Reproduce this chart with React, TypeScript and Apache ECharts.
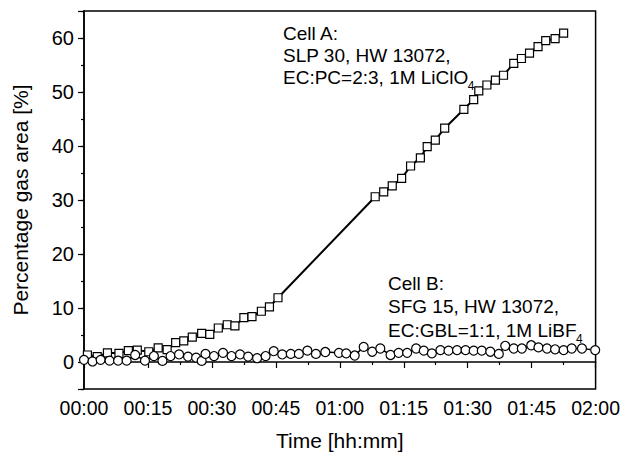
import React, { useEffect, useRef } from "react";
import * as echarts from "echarts";

// Cell A (squares): time in minutes, percentage gas area
const cellATime = [0.8, 3.1, 5.5, 8.2, 10.4, 12.5, 15.2, 17.4, 19.5, 21.5, 23.4, 25.4, 27.6, 29.5, 31.5, 33.6, 35.4, 37.5, 39.4, 41.6, 43.5, 45.5, 68.3, 70.3, 72.3, 74.5, 76.6, 78.9, 80.5, 82.4, 84.6, 89.1, 91.4, 92.6, 94.5, 96.5, 98.4, 100.8, 102.6, 104.5, 106.5, 108.3, 110.5, 112.5];
const cellAValue = [1.3, 1.0, 1.7, 1.6, 2.1, 2.2, 1.9, 2.6, 2.3, 3.6, 3.9, 4.6, 5.3, 5.1, 6.3, 6.9, 6.7, 8.2, 8.4, 9.4, 10.2, 11.9, 30.6, 31.5, 32.6, 34.0, 36.3, 37.8, 39.9, 41.1, 43.3, 46.8, 48.6, 50.2, 51.3, 52.2, 53.1, 55.3, 56.2, 57.2, 58.4, 59.5, 59.9, 60.9];

// Cell B (circles)
const cellBTime = [0, 2.0, 3.9, 6.0, 8.0, 10.0, 12.0, 14.3, 16.4, 18.4, 20.3, 22.3, 24.4, 26.3, 27.6, 28.5, 30.5, 32.6, 34.6, 36.6, 38.5, 40.6, 42.6, 44.5, 46.5, 48.5, 50.4, 52.4, 54.4, 56.6, 59.8, 61.5, 63.5, 65.6, 67.6, 69.5, 71.9, 73.8, 75.8, 77.9, 79.7, 81.6, 83.6, 85.5, 87.5, 89.5, 91.4, 93.3, 95.3, 97.3, 98.8, 100.8, 102.7, 104.9, 106.6, 108.6, 110.5, 112.5, 114.4, 116.8, 119.9];
const cellBValue = [0.4, 0.1, 0.4, 0.25, 0.25, 0.25, 1.3, 0.25, 1.1, 0.2, 1.1, 1.4, 1.0, 0.8, 0.2, 1.5, 1.1, 1.7, 1.1, 1.4, 1.0, 0.7, 1.1, 2.0, 1.4, 1.5, 1.5, 2.1, 1.5, 1.85, 1.7, 1.6, 1.2, 2.8, 1.9, 2.5, 1.3, 1.7, 1.7, 2.5, 2.1, 1.6, 2.2, 2.1, 2.2, 2.2, 2.1, 2.1, 1.9, 1.5, 3.0, 2.5, 2.5, 3.1, 2.7, 2.5, 2.35, 2.2, 2.5, 2.5, 2.2];

const xTickLabels = ["00:00", "00:15", "00:30", "00:45", "01:00", "01:15", "01:30", "01:45", "02:00"];

// each line: [main text, subscript]
const cellALines: [string, string][] = [["Cell A:", ""], ["SLP 30, HW 13072,", ""], ["EC:PC=2:3, 1M LiClO", "4"]];
const cellBLines: [string, string][] = [["Cell B:", ""], ["SFG 15, HW 13072,", ""], ["EC:GBL=1:1, 1M LiBF", "4"]];

const FONT = "'Liberation Sans', Arial, Helvetica, sans-serif";
const ANN_SIZE = 19;

export default function App() {
  const ref = useRef<HTMLDivElement>(null);
  useEffect(() => {
    if (!ref.current) return;
    const chart = echarts.init(ref.current, null, { renderer: "svg" });
    const pair = (t: number[], v: number[]) => t.map((x, i) => [x, v[i]]);
    const ctx = document.createElement("canvas").getContext("2d");
    const measure = (s: string) => {
      if (!ctx) return s.length * ANN_SIZE * 0.55;
      ctx.font = `${ANN_SIZE}px ${FONT}`;
      return ctx.measureText(s).width;
    };
    const textEls = (lines: [string, string][], x: number, y0: number, dy: number) => {
      const els: any[] = [];
      lines.forEach(([main, sub], i) => {
        const top = y0 + i * dy;
        els.push({
          type: "text",
          left: x,
          top,
          style: { text: main, fill: "#000", fontSize: ANN_SIZE, fontFamily: FONT },
        });
        if (sub) {
          els.push({
            type: "text",
            left: x + measure(main) - 0.5,
            top: top + 12.5,
            style: { text: sub, fill: "#000", fontSize: 12, fontFamily: FONT },
          });
        }
      });
      return els;
    };
    chart.setOption({
      animation: false,
      backgroundColor: "#fff",
      grid: {
        left: 84,
        top: 11,
        right: 26,
        bottom: 69,
        show: true,
        borderColor: "#000",
        borderWidth: 1.5,
        backgroundColor: "transparent",
      },
      xAxis: {
        type: "value",
        min: 0,
        max: 120,
        interval: 15,
        name: "Time [hh:mm]",
        nameLocation: "middle",
        nameGap: 41,
        nameTextStyle: { fontSize: 21, fontFamily: FONT, color: "#000" },
        axisLine: { show: true, lineStyle: { color: "#000", width: 1.5 } },
        axisTick: { show: true, inside: false, length: 6, lineStyle: { color: "#000", width: 1.2 } },
        minorTick: { show: true, splitNumber: 2, length: 3, lineStyle: { color: "#000", width: 1.2 } },
        splitLine: { show: false },
        axisLabel: {
          margin: 9,
          fontSize: 19.5,
          fontFamily: FONT,
          color: "#000",
          formatter: (v: number) => xTickLabels[Math.round(v / 15)] ?? "",
        },
      },
      yAxis: [
        {
          type: "value",
          min: -5,
          max: 65,
          interval: 5,
          name: "Percentage gas area [%]",
          nameLocation: "middle",
          nameGap: 53,
          nameTextStyle: { fontSize: 21, fontFamily: FONT, color: "#000" },
          axisLine: { show: true, lineStyle: { color: "#000", width: 1.5 } },
          axisTick: { show: true, inside: false, length: 3, lineStyle: { color: "#000", width: 1.2 } },
          splitLine: { show: false },
          axisLabel: {
            margin: 10,
            fontSize: 20,
            fontFamily: FONT,
            color: "#000",
            formatter: (v: number) => (v >= 0 && v <= 60 && v % 10 === 0 ? String(v) : ""),
          },
        },
        {
          type: "value",
          min: -5,
          max: 65,
          splitNumber: 7,
          position: "left",
          axisLine: { show: false },
          axisTick: { show: true, inside: false, length: 6, lineStyle: { color: "#000", width: 1.2 } },
          axisLabel: { show: false },
          splitLine: { show: false },
        },
      ],
      series: [
        {
          name: "Cell A",
          type: "line",
          data: pair(cellATime, cellAValue),
          symbol: "rect",
          symbolSize: 8,
          lineStyle: { color: "#000", width: 2 },
          itemStyle: { color: "#fff", borderColor: "#000", borderWidth: 1.2 },
          z: 3,
        },
        {
          name: "Cell B",
          type: "line",
          data: pair(cellBTime, cellBValue),
          symbol: "circle",
          symbolSize: 9,
          lineStyle: { color: "#000", width: 1.5 },
          itemStyle: { color: "#fff", borderColor: "#000", borderWidth: 1.2 },
          z: 3,
        },
      ],
      graphic: [...textEls(cellALines, 283, 23.5, 22), ...textEls(cellBLines, 388, 274, 23.3)],
    });
    return () => chart.dispose();
  }, []);
  return (
    <div
      ref={ref}
      style={{ position: "fixed", left: 0, top: 0, width: 623, height: 458 }}
    />
  );
}
